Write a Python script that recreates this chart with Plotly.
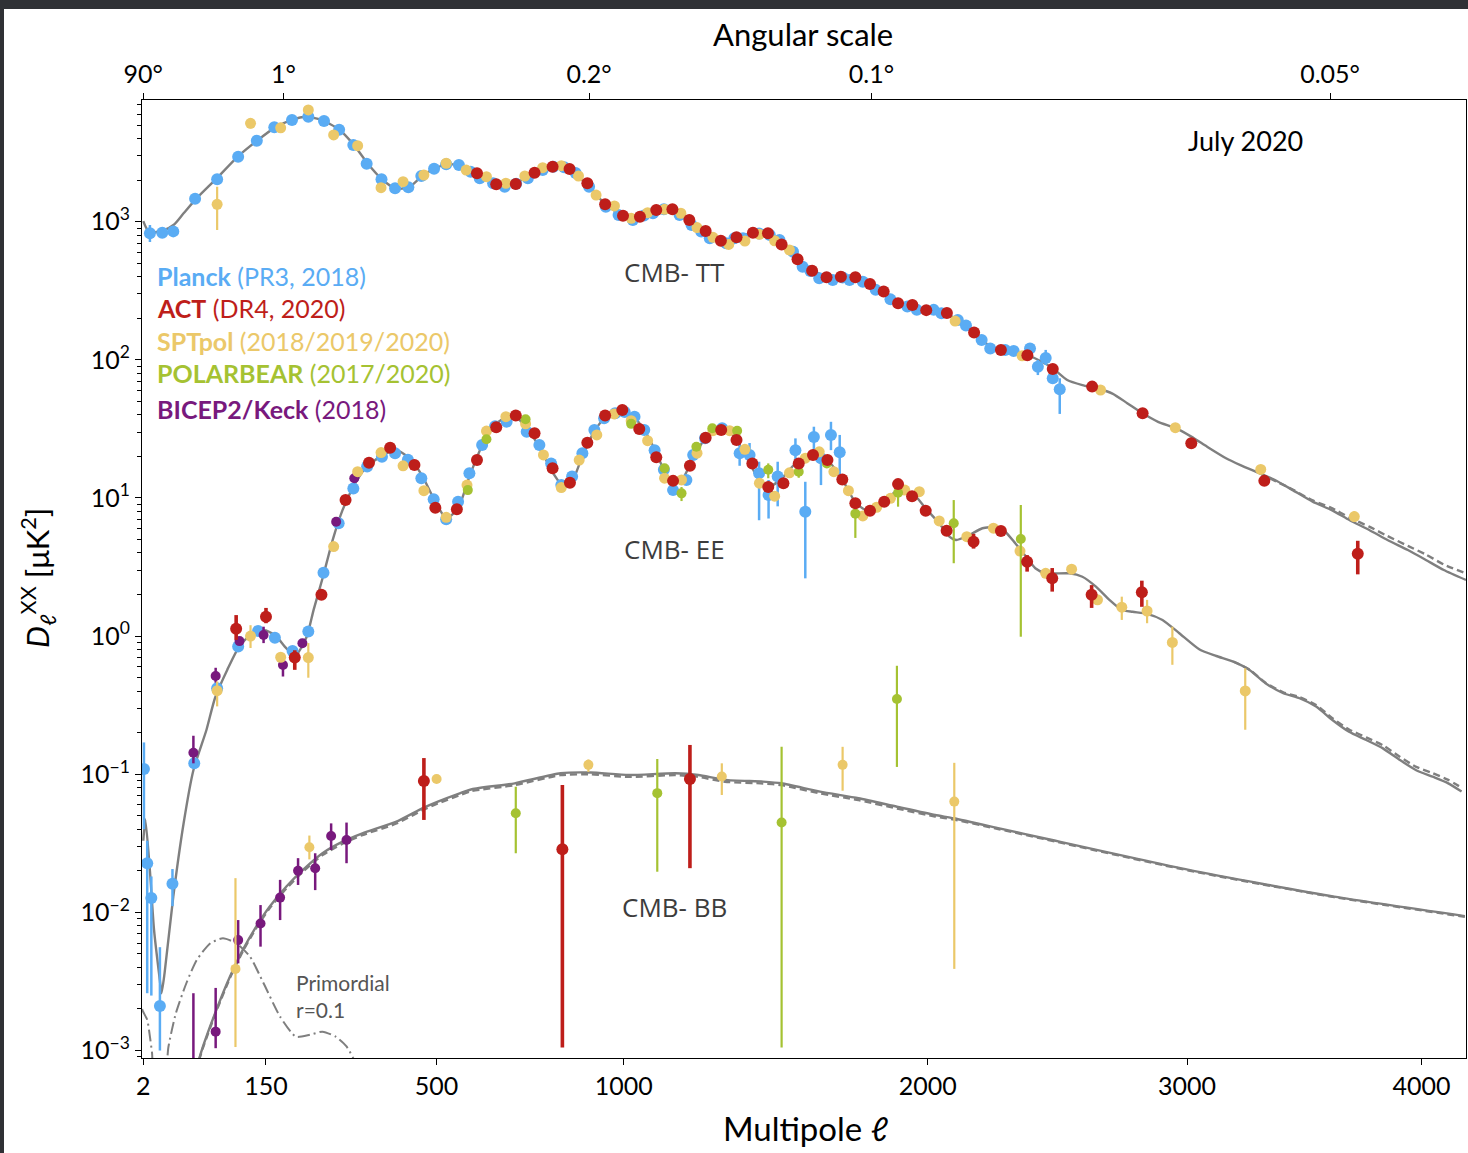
import numpy as np
import plotly.graph_objects as go

# ---------------- theory curves (ell, D_ell in muK^2) ----------------
tt_ell = [2, 4, 8, 15, 25, 35, 50, 75, 105, 135, 165, 195, 220, 250, 285, 315, 345, 375, 405, 435,
          465, 495, 525, 555, 590, 620, 650, 680, 700, 730, 760, 800, 830, 860, 895, 945, 1000, 1050,
          1100, 1145, 1200, 1250, 1300, 1345, 1400, 1450, 1495, 1545, 1600, 1645, 1700, 1745, 1795,
          1840, 1890, 1945, 1995, 2070, 2110, 2170, 2230, 2270, 2320, 2370, 2420, 2470, 2523, 2582,
          2641, 2700, 2760, 2820, 2882, 2956, 3017, 3082, 3160, 3220, 3300, 3365, 3440, 3525, 3605,
          3685, 3770, 3850, 3940, 4020, 4100, 4200]
tt_D = [1010, 880, 840, 860, 950, 1150, 1480, 2050, 2950, 3850, 4800, 5450, 5750, 5450, 4650, 3600,
        2620, 2030, 1740, 1770, 2130, 2420, 2600, 2570, 2280, 2080, 1880, 1860, 1900, 2150, 2420, 2520,
        2430, 2180, 1880, 1340, 1110, 1090, 1210, 1230, 1040, 860, 735, 770, 830, 820, 690, 540, 445,
        400, 400, 395, 355, 313, 258, 248, 229, 218, 190, 158, 125, 118, 114, 108, 98, 86, 71.5, 65.7,
        62, 57, 48.4, 41, 35.6, 31.9, 27.8, 23.5, 19.4, 17.3, 15.1, 13.5, 11.4, 9.4, 8.2, 6.9, 5.87,
        4.96, 4.2, 3.56, 3.01, 2.55]
tt_dash_ell = [3300, 3440, 3525, 3605, 3685, 3770, 3850, 3940, 4020, 4100, 4200]
tt_dash_D = [15.1, 11.5, 9.6, 8.5, 7.2, 6.2, 5.3, 4.5, 3.9, 3.3, 2.85]

ee_ell = [2, 3, 5.6, 8.3, 12.7, 14, 16.5, 24.5, 35, 46, 62, 73, 90, 109, 134, 150, 168, 185, 202, 222,
          235, 253, 272, 292, 312, 339, 377, 407, 437, 467, 495, 523, 552, 580, 612, 645, 675, 700, 728,
          762, 794, 822, 840, 852, 881, 915, 946, 975, 996, 1032, 1061, 1092, 1120, 1145, 1175, 1210,
          1247, 1272, 1300, 1330, 1357, 1389, 1420, 1455, 1490, 1520, 1551, 1580, 1610, 1648, 1699,
          1744, 1781, 1839, 1890, 1944, 1993, 2042, 2079, 2104, 2153, 2201, 2250, 2286, 2324, 2365,
          2400, 2440, 2531, 2582, 2635, 2688, 2737, 2780, 2838, 2900, 2968, 3051, 3120, 3190, 3258,
          3325, 3400, 3469, 3540, 3610, 3682, 3757, 3830, 3904, 3977, 4050, 4120, 4180]
ee_D = [0.033, 0.047, 0.020, 0.0075, 0.0032, 0.0026, 0.0036, 0.013, 0.044, 0.107, 0.21, 0.355, 0.569,
        0.863, 1.09, 1.1, 0.99, 0.816, 0.73, 0.99, 1.55, 2.69, 4.96, 8.2, 11.7, 16.4, 20.5, 22.2, 19.4,
        14.3, 9.66, 7.13, 8.41, 14.3, 24, 34, 38.5, 38.5, 32, 23.5, 16, 12.6, 12.2, 13, 20, 30.5, 38.5,
        42.5, 42.5, 38, 31, 22.5, 16, 13, 13.5, 19.5, 27, 30.5, 31.5, 29.5, 24, 18, 13.5, 12.2, 13.5,
        16, 18.8, 20.5, 20.5, 18.8, 13.6, 9.3, 8.2, 9.4, 11.2, 10.9, 8.4, 6.56, 5.25, 4.96, 5.4, 6.04,
        6.14, 5.7, 4.7, 3.76, 3.1, 2.85, 2.85, 2.69, 2.28, 1.83, 1.55, 1.50, 1.45, 1.31, 1.05, 0.80,
        0.718, 0.653, 0.569, 0.456, 0.386, 0.355, 0.309, 0.247, 0.203, 0.177, 0.154, 0.127, 0.107,
        0.096, 0.086, 0.075]
ee_dash_ell = [3190, 3258, 3325, 3400, 3469, 3540, 3610, 3682, 3757, 3830, 3904, 3977, 4050, 4120, 4180]
ee_dash_D = [0.655, 0.572, 0.46, 0.392, 0.362, 0.317, 0.255, 0.211, 0.185, 0.162, 0.134, 0.113, 0.102,
             0.091, 0.08]

bb_ell = [45, 57.6, 75, 94, 113, 134, 156, 185, 215, 252, 292, 333, 407, 467, 503, 556, 586, 696, 820,
          904, 1015, 1155, 1226, 1310, 1433, 1494, 1623, 1755, 1890, 2027, 2095, 2264, 2433, 3007,
          3618, 4195]
bb_D = [0.0006, 0.00107, 0.00197, 0.00343, 0.00535, 0.0079, 0.011, 0.0154, 0.0203, 0.0268, 0.0325,
        0.0374, 0.0454, 0.0568, 0.0634, 0.0728, 0.0779, 0.086, 0.1017, 0.103, 0.0988, 0.1017, 0.0988,
        0.091, 0.0885, 0.086, 0.0748, 0.067, 0.0582, 0.0507, 0.048, 0.0406, 0.0344, 0.0203, 0.013,
        0.0094]
bb_dash_D = [0.0006, 0.00105, 0.00193, 0.00336, 0.00522, 0.0077, 0.0107, 0.0149, 0.0197, 0.026, 0.0315,
             0.0363, 0.044, 0.055, 0.0615, 0.0706, 0.0756, 0.0834, 0.0986, 0.0999, 0.0958, 0.0986,
             0.0958, 0.0883, 0.0858, 0.0834, 0.0726, 0.065, 0.0565, 0.0495, 0.047, 0.0400, 0.0340,
             0.0201, 0.0129, 0.0093]

prim_ell = [1.5, 2, 4, 5.6, 7, 8.5, 16, 20, 27, 38, 50, 67, 84, 103, 124, 146, 174, 202, 228, 252, 278,
            300, 320]
prim_D = [0.002, 0.0019, 0.00167, 0.00126, 0.00095, 0.0006, 0.0006, 0.00107, 0.00186, 0.00307,
          0.00453, 0.00598, 0.0065, 0.00598, 0.00479, 0.00307, 0.00176, 0.00126, 0.0013, 0.00137,
          0.00126, 0.00107, 0.0008]

# ---------------- data points ----------------
planck_tt_ell = [5.6, 14.6, 24.5, 48, 76, 106, 135, 164, 195, 225, 255, 285, 314, 342, 374, 404, 434,
                 464, 494, 523, 554, 583, 606, 640, 670, 700, 731, 771, 800, 830, 862, 900, 948, 985,
                 1027, 1060, 1087, 1120, 1168, 1205, 1235, 1262, 1314, 1340, 1368, 1420, 1455, 1487,
                 1532, 1564, 1590, 1620, 1666, 1700, 1724, 1770, 1815, 1867, 1927, 1961, 2022, 2050,
                 2110, 2140, 2198, 2230, 2286, 2318, 2380, 2410, 2440, 2467, 2494]
planck_tt_D = [824, 832, 851, 1466, 2028, 2951, 3855, 4823, 5445, 5754, 5357, 4634, 3589, 2630, 2028,
               1745, 1775, 2142, 2421, 2603, 2572, 2300, 2061, 1897, 1791, 1880, 2061, 2366, 2500,
               2480, 2250, 1791, 1285, 1120, 1028, 1110, 1151, 1230, 1117, 946, 850, 759, 698, 760,
               759, 820, 800, 738, 607, 472, 440, 389, 378, 395, 378, 368, 321, 274, 243, 230, 230,
               217, 194, 177, 139, 121, 118, 116, 121, 89, 103, 73.5, 61.2]
planck_tt_err = {5.6: (713, 946), 2380: (112, 130), 2410: (77.6, 99.8), 2440: (91.8, 118),
                 2467: (67.6, 79), 2494: (40.6, 73.5)}

act_tt_ell = [599, 648, 699, 749, 798, 845, 895, 946, 998, 1048, 1097, 1146, 1198, 1249, 1297, 1347,
              1400, 1449, 1494, 1547, 1596, 1645, 1694, 1744, 1795, 1843, 1894, 1945, 1995, 2070, 2170,
              2270, 2370, 2467, 2620, 2820, 3017, 3320, 3720]
act_tt_D = [2240, 1866, 1875, 2264, 2502, 2406, 1897, 1337, 1105, 1086, 1215, 1230, 1028, 857, 728,
            771, 832, 824, 685, 534, 442, 396, 400, 396, 354, 313, 257, 249, 229, 218, 158, 118, 108,
            85.9, 64.0, 41.0, 24.9, 13.3, 3.94]
act_tt_err = {3720: (2.8, 4.9)}

spt_tt_ell = [76, 125, 175, 225, 274, 323, 373, 422, 470, 523, 572, 623, 673, 723, 771, 822, 870, 920,
              973, 1022, 1071, 1122, 1172, 1222, 1272, 1322, 1374, 1421, 1471, 1520, 2100, 2350, 2653,
              2952, 3305, 3705]
spt_tt_D = [1337, 5152, 4786, 6442, 4247, 3548, 1763, 1950, 2178, 2649, 2366, 2118, 1898, 2142, 2460,
            2543, 2142, 1560, 1300, 1059, 1162, 1230, 1151, 906, 771, 685, 725, 811, 728, 624, 191,
            107, 60.5, 32.3, 16.1, 7.33]
spt_tt_err = {76: (871, 1791), 125: (4730, 5600), 175: (4400, 5200), 274: (3950, 4550),
              3705: (6.7, 8.0)}

planck_ee_ell = [2.3, 4, 6.5, 12.7, 23.7, 47, 76, 106, 137, 165, 196, 225, 254, 284, 314, 343, 375,
                 404, 433, 464, 493, 523, 552, 580, 612, 645, 675, 728, 762, 794, 822, 852, 881, 915,
                 943, 975, 1003, 1032, 1061, 1092, 1120, 1148, 1189, 1210, 1247, 1301, 1357, 1389,
                 1420, 1451, 1481, 1540, 1573, 1602, 1626, 1660, 1690]
planck_ee_D = [0.109, 0.0227, 0.0127, 0.0021, 0.0161, 0.12, 0.419, 0.84, 1.09, 0.975, 0.78, 1.08,
               2.88, 6.56, 11.7, 16.9, 19.9, 21.1, 18.9, 13.9, 9.79, 7.02, 9.4, 15.1, 24.2, 33, 35.7,
               30.2, 24.2, 17.8, 12.4, 14.3, 21.1, 31.1, 37.8, 41, 42, 38.8, 31.1, 22.2, 16, 11.4,
               13.5, 20.5, 27.1, 32, 21.1, 20.5, 15.1, 10.5, 14.3, 22.2, 7.96, 27.6, 19.4, 28.6, 21.4]
planck_ee_err = {2.3: (0.04, 0.17), 4: (0.0026, 0.033), 6.5: (0.0025, 0.0182), 12.7: (0.001, 0.0056),
                 23.7: (0.0111, 0.0206), 1357: (17.1, 26.3), 1389: (17.1, 25), 1420: (6.9, 18.3),
                 1451: (7.1, 13.5), 1481: (8.7, 18.3), 1540: (18.3, 27.0), 1573: (2.62, 13.1),
                 1602: (22.2, 32.8), 1626: (12.4, 22.2), 1660: (22.2, 35.6), 1690: (14.7, 28.6)}

act_ee_ell = [103, 150, 200, 250, 298, 347, 393, 448, 497, 549, 599, 648, 699, 749, 798, 846, 895, 946,
              996, 1046, 1097, 1148, 1200, 1249, 1298, 1347, 1398, 1450, 1500, 1551, 1599, 1648, 1699,
              1744, 1795, 1845, 1894, 1944, 1993, 2069, 2168, 2270, 2369, 2465, 2618, 2817]
act_ee_D = [1.13, 1.38, 0.70, 1.99, 9.66, 18.0, 23.1, 17.3, 8.5, 8.28, 18.8, 32.5, 39.5, 29.4, 16.4,
            12.9, 25.1, 39.5, 43.4, 31.6, 19.7, 13.3, 17.1, 27.3, 31.1, 26.3, 17.8, 12.0, 12.8, 17.8,
            20.5, 18.8, 13.6, 9.16, 8.09, 9.4, 12.6, 10.3, 8.09, 5.8, 4.83, 5.77, 3.46, 2.62, 1.99, 2.08]
act_ee_err = {103: (0.94, 1.42), 150: (1.24, 1.6), 200: (0.57, 0.79), 2168: (4.3, 5.5),
              2369: (2.93, 3.86), 2465: (2.1, 3.11), 2618: (1.6, 2.34), 2817: (1.63, 2.52)}

spt_ee_ell = [76, 125, 175, 225, 274, 323, 373, 422, 470, 523, 574, 623, 673, 725, 773, 822, 872, 922,
              972, 1022, 1071, 1122, 1174, 1222, 1272, 1325, 1374, 1421, 1471, 1520, 1573, 1620, 1670,
              1720, 1770, 1818, 1867, 1918, 1970, 2042, 2143, 2242, 2342, 2440, 2540, 2641, 2737, 2838,
              2940, 3240]
spt_ee_D = [0.403, 1.0, 0.703, 0.70, 4.45, 15.5, 21.3, 17.1, 11.3, 7.24, 12.4, 30.5, 38.8, 34.4, 20.5,
            11.9, 18.8, 28.6, 40.6, 36.3, 26.0, 13.9, 13.5, 21.1, 30.7, 30.7, 22.5, 12.8, 10.3, 15.2,
            19.4, 21.6, 15.5, 11.3, 7.41, 8.57, 9.95, 11.4, 11.1, 6.82, 5.25, 6.04, 4.13, 2.85, 3.05,
            1.83, 1.62, 1.52, 0.90, 0.401]
spt_ee_err = {76: (0.31, 0.47), 125: (0.82, 1.2), 225: (0.50, 0.89), 2737: (1.31, 1.93),
              2838: (1.24, 1.83), 2940: (0.62, 1.17), 3240: (0.21, 0.585)}

pb_ee_ell = [576, 623, 725, 1022, 1122, 1174, 1220, 1270, 1349, 1450, 1551, 1646, 1744, 1894, 2095, 2345]
pb_ee_D = [11.4, 26.6, 37.2, 34.4, 16.4, 10.8, 23.5, 32, 30.7, 16.0, 15.5, 17.8, 7.7, 10.9, 6.56, 5.05]
pb_ee_err = {1174: (9.5, 12), 1450: (13.9, 17.8), 1551: (14.0, 16.5), 1744: (5.14, 9.2),
             1894: (8.65, 12.1), 2095: (3.37, 9.66), 2345: (0.99, 8.9)}

bk_ee_ell = [46, 74, 108, 146, 179, 214, 279, 316]
bk_ee_D = [0.143, 0.514, 0.92, 1.02, 0.618, 0.888, 6.73, 13.9]
bk_ee_err = {46: (0.12, 0.19), 74: (0.46, 0.59), 146: (0.89, 1.17), 179: (0.51, 0.67), 214: (0.83, 0.95)}

bk_bb_ell = [46, 74, 106, 141, 174, 206, 238, 269, 300]
bk_bb_D = [0.0005, 0.00137, 0.0063, 0.0083, 0.0128, 0.020, 0.0209, 0.0357, 0.0334]
bk_bb_err = {46: (0.0001, 0.0026), 74: (0.00104, 0.00284), 106: (0.00428, 0.0088),
             141: (0.00565, 0.0113), 174: (0.0088, 0.0172), 206: (0.0158, 0.0247),
             238: (0.0145, 0.0268), 269: (0.0283, 0.0441), 300: (0.0227, 0.0447)}

spt_bb_ell = [102, 227, 500, 898, 1300, 1700, 2097]
spt_bb_D = [0.0039, 0.0296, 0.0925, 0.117, 0.0962, 0.117, 0.0634]
spt_bb_err = {102: (0.00106, 0.0177), 227: (0.0242, 0.036), 500: (0.088, 0.098), 898: (0.104, 0.128),
              1300: (0.0708, 0.12), 1700: (0.076, 0.158), 2097: (0.0039, 0.121)}

act_bb_ell = [470, 825, 1200]
act_bb_D = [0.0893, 0.0286, 0.0925]
act_bb_err = {470: (0.0467, 0.131), 825: (0.00105, 0.0835), 1200: (0.0209, 0.163)}

pb_bb_ell = [699, 1100, 1494, 1890]
pb_bb_D = [0.0522, 0.073, 0.0447, 0.351]
pb_bb_err = {699: (0.0268, 0.0813), 1100: (0.0197, 0.129), 1494: (0.00105, 0.158), 1890: (0.113, 0.61)}

bottom_ticks = [2, 150, 500, 1000, 2000, 3000, 4000]
top_tick_deg = [90, 1, 0.2, 0.1, 0.05]
top_tick_text = ["90°", "1°", "0.2°", "0.1°", "0.05°"]
y_tick_exp = [-3, -2, -1, 0, 1, 2, 3]

# ---------------- styling ----------------
C_PLANCK = "#5AACF4"
C_ACT = "#BE1E1A"
C_SPT = "#EBC869"
C_PB = "#A5C232"
C_BK = "#78197D"
C_TH = "#7f7f7f"

W, H = 1468, 1153
LM, RM, TM, BM = 142, 2, 100, 95
PW, PH = W - LM - RM, H - TM - BM


def px(x):
    return (x - LM) / PW


def py(y):
    return (H - BM - y) / PH


def tx(ell):
    # power-law (ell^0.7) scaling of the multipole axis
    return np.power(np.asarray(ell, dtype=float), 0.7)


fig = go.Figure()


def add_line(ells, vals, dash="solid", width=2.4):
    fig.add_trace(go.Scatter(x=tx(ells), y=vals, mode="lines",
                             line=dict(color=C_TH, width=width, dash=dash, shape="spline", smoothing=0.6),
                             showlegend=False, hoverinfo="skip"))


add_line(tt_ell, tt_D)
add_line(tt_dash_ell, tt_dash_D, dash="7px,4px")
add_line(ee_ell, ee_D)
add_line(ee_dash_ell, ee_dash_D, dash="7px,4px")
add_line(bb_ell, bb_dash_D, dash="7px,4px")
add_line(bb_ell, bb_D)
add_line(prim_ell, prim_D, dash="12px,4px,2px,4px", width=2.0)


def add_pts(ells, vals, errs, color, size, thick):
    up, dn = [], []
    for l, v in zip(ells, vals):
        if l in errs:
            lo, hi = errs[l]
            up.append(hi - v)
            dn.append(v - lo)
        else:
            up.append(0)
            dn.append(0)
    fig.add_trace(go.Scatter(
        x=tx(ells), y=vals, mode="markers",
        marker=dict(color=color, size=size, line=dict(width=0)),
        error_y=dict(type="data", symmetric=False, array=up, arrayminus=dn,
                     color=color, thickness=thick, width=0),
        showlegend=False, hoverinfo="skip"))


add_pts(planck_tt_ell, planck_tt_D, planck_tt_err, C_PLANCK, 12, 2.5)
add_pts(planck_ee_ell, planck_ee_D, planck_ee_err, C_PLANCK, 12, 2.5)
add_pts(bk_ee_ell, bk_ee_D, bk_ee_err, C_BK, 10, 2.5)
add_pts(bk_bb_ell, bk_bb_D, bk_bb_err, C_BK, 10, 2.5)
add_pts(spt_tt_ell, spt_tt_D, spt_tt_err, C_SPT, 11, 2.2)
add_pts(spt_ee_ell, spt_ee_D, spt_ee_err, C_SPT, 11, 2.2)
add_pts(spt_bb_ell, spt_bb_D, spt_bb_err, C_SPT, 10, 2.2)
add_pts(pb_ee_ell, pb_ee_D, pb_ee_err, C_PB, 10, 2.2)
add_pts(pb_bb_ell, pb_bb_D, pb_bb_err, C_PB, 10, 2.2)
add_pts(act_tt_ell, act_tt_D, act_tt_err, C_ACT, 12, 3.6)
add_pts(act_ee_ell, act_ee_D, act_ee_err, C_ACT, 12, 3.6)
add_pts(act_bb_ell, act_bb_D, act_bb_err, C_ACT, 12, 3.6)

# invisible anchor trace for the top (angular scale) axis
fig.add_trace(go.Scatter(x=tx([2]), y=[1], xaxis="x2", mode="markers",
                         marker=dict(opacity=0), showlegend=False, hoverinfo="skip"))

xr = [float(tx(1.44)), float(tx(4200))]
FONT = "Lato"

minor_vals = [k * 10.0 ** e for e in range(-4, 4) for k in range(2, 10)]

fig.update_layout(
    width=W, height=H,
    margin=dict(l=LM, r=RM, t=TM, b=BM, pad=0),
    paper_bgcolor="white", plot_bgcolor="white",
    font=dict(family=FONT, color="black", size=25),
    xaxis=dict(range=xr, tickmode="array", tickvals=tx(bottom_ticks),
               ticktext=[str(t) for t in bottom_ticks],
               ticks="outside", ticklen=6, tickwidth=1.3, tickcolor="black",
               showline=True, linecolor="black", linewidth=1.3, showgrid=False, zeroline=False,
               tickfont=dict(family=FONT, size=25)),
    xaxis2=dict(range=xr, overlaying="x", side="top", tickmode="array",
                tickvals=tx([180.0 / d if d != 90 else 2 for d in top_tick_deg]),
                ticktext=top_tick_text,
                ticks="outside", ticklen=6, tickwidth=1.3, tickcolor="black",
                showline=True, linecolor="black", linewidth=1.3, showgrid=False, zeroline=False,
                tickfont=dict(family=FONT, size=25)),
    yaxis=dict(type="log", range=[-3.054, 3.881], tickmode="array",
               tickvals=[10.0 ** e for e in y_tick_exp],
               ticktext=["10<sup>%s</sup>" % (str(e).replace("-", "−")) for e in y_tick_exp],
               ticks="outside", ticklen=6, tickwidth=1.3, tickcolor="black",
               minor=dict(tickmode="array", tickvals=minor_vals, ticks="outside", ticklen=3.5,
                          tickwidth=1, tickcolor="black", showgrid=False),
               showline=True, mirror=True, linecolor="black", linewidth=1.3,
               showgrid=False, zeroline=False, tickfont=dict(family=FONT, size=25)),
)

ann = []


def text(x, y, s, size, color="black", xanchor="center", family=FONT, angle=0, align="center"):
    ann.append(dict(x=px(x), y=py(y), xref="paper", yref="paper", text=s, showarrow=False,
                    xanchor=xanchor, yanchor="middle", textangle=angle, align=align,
                    font=dict(family=family, size=size, color=color)))


text(803, 34, "Angular scale", 31)
text(805, 1128, "Multipole ℓ", 33)
text(38, 578, "<i>D</i><sub>ℓ</sub><sup>XX</sup> [μK<sup>2</sup>]", 31, angle=-90)
text(1245, 140, "July 2020", 27)

LEG = 25
text(155, 276, "<b>Planck</b> (PR3, 2018)", LEG, C_PLANCK, "left")
text(155, 308, "<b>ACT</b> (DR4, 2020)", LEG, C_ACT, "left")
text(155, 341, "<b>SPTpol</b> (2018/2019/2020)", LEG, C_SPT, "left")
text(155, 373, "<b>POLARBEAR</b> (2017/2020)", LEG, C_PB, "left")
text(155, 409, "<b>BICEP2/Keck</b> (2018)", LEG, C_BK, "left")

text(674, 272, "CMB- TT", 26, "#3c3c3c", family="Open Sans")
text(674, 549, "CMB- EE", 26, "#3c3c3c", family="Open Sans")
text(674, 907, "CMB- BB", 26, "#3c3c3c", family="Open Sans")
text(294, 996, "Primordial<br>r=0.1", 21, "#555555", "left", align="left")

fig.update_layout(annotations=ann)

# dark screenshot frame strips
fig.update_layout(shapes=[
    dict(type="rect", xref="paper", yref="paper", x0=px(0), x1=px(W), y0=py(9), y1=py(0),
         fillcolor="#2f3135", line=dict(width=0), layer="above"),
    dict(type="rect", xref="paper", yref="paper", x0=px(0), x1=px(4), y0=py(H), y1=py(0),
         fillcolor="#2f3135", line=dict(width=0), layer="above"),
])

fig.write_html("out.html", config={"displayModeBar": False},
               post_script="document.body.style.margin='0';document.body.style.overflow='hidden';")
